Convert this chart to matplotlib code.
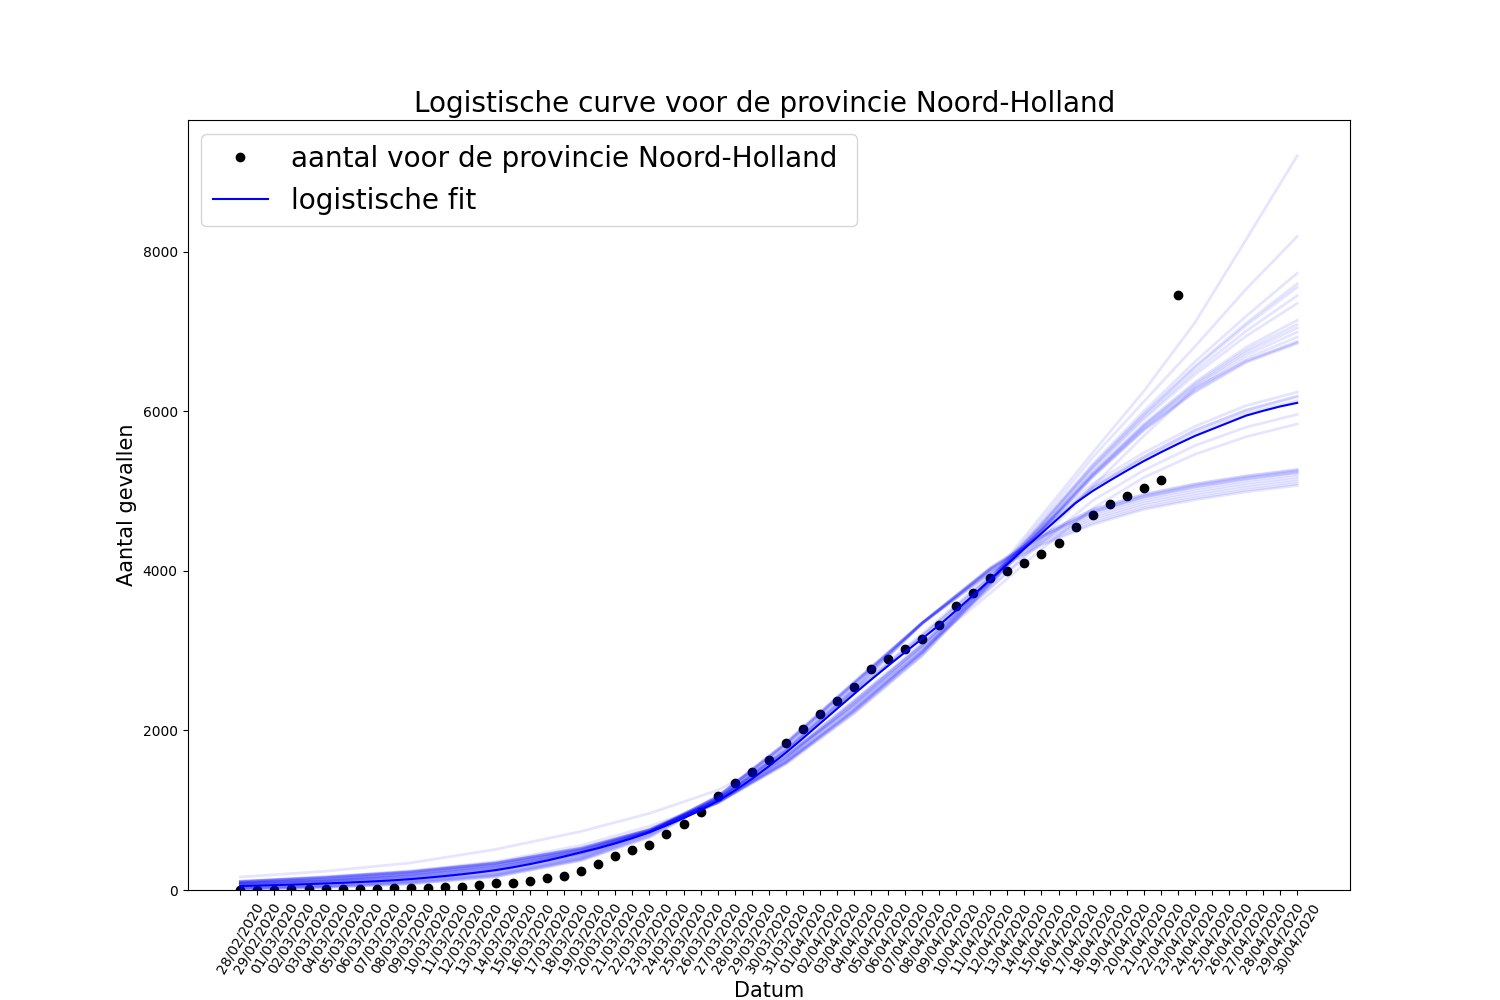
import matplotlib
matplotlib.use("Agg")
import matplotlib.pyplot as plt

title = "Logistische curve voor de provincie Noord-Holland"
x_label = "Datum"
y_label = "Aantal gevallen"
label_points = "aantal voor de provincie Noord-Holland"
label_fit = "logistische fit"

dates = ["28/02/2020", "29/02/2020",
         "01/03/2020", "02/03/2020", "03/03/2020", "04/03/2020", "05/03/2020", "06/03/2020",
         "07/03/2020", "08/03/2020", "09/03/2020", "10/03/2020", "11/03/2020", "12/03/2020",
         "13/03/2020", "14/03/2020", "15/03/2020", "16/03/2020", "17/03/2020", "18/03/2020",
         "19/03/2020", "20/03/2020", "21/03/2020", "22/03/2020", "23/03/2020", "24/03/2020",
         "25/03/2020", "26/03/2020", "27/03/2020", "28/03/2020", "29/03/2020", "30/03/2020",
         "31/03/2020", "01/04/2020", "02/04/2020", "03/04/2020", "04/04/2020", "05/04/2020",
         "06/04/2020", "07/04/2020", "08/04/2020", "09/04/2020", "10/04/2020", "11/04/2020",
         "12/04/2020", "13/04/2020", "14/04/2020", "15/04/2020", "16/04/2020", "17/04/2020",
         "18/04/2020", "19/04/2020", "20/04/2020", "21/04/2020", "22/04/2020", "23/04/2020",
         "24/04/2020", "25/04/2020", "26/04/2020", "27/04/2020", "28/04/2020", "29/04/2020",
         "30/04/2020"]

counts = [5, 5, 6, 8, 8, 12, 12, 14, 18, 28, 28, 28, 42, 42, 62, 88, 88, 112, 150, 175,
          238, 325, 421, 500, 563, 700, 822, 972, 1176, 1342, 1476, 1627, 1840, 2015, 2203,
          2370, 2542, 2767, 2892, 3018, 3143, 3320, 3560, 3720, 3908, 3996, 4096, 4209, 4347,
          4547, 4698, 4836, 4936, 5036, 5137, 7453]

main_fit = [50, 55, 61, 67, 74, 82, 90, 100, 110, 122, 137, 155, 175, 197, 222, 250, 285, 325,
            370, 420, 473, 525, 585, 650, 725, 810, 900, 1000, 1115, 1245, 1390, 1550, 1720,
            1900, 2085, 2270, 2455, 2635, 2810, 2980, 3150, 3320, 3505, 3695, 3890, 4085, 4280,
            4470, 4660, 4850, 5000, 5130, 5255, 5375, 5485, 5590, 5690, 5775, 5860, 5945, 6005,
            6060, 6105]

sample_dates = [dates[i] for i in (0, 5, 10, 15, 20, 24, 28, 32, 36, 40, 44, 47, 50, 53, 56, 59, 62)]

pale_low = [
    [10, 30, 75, 165, 370, 660, 1130, 1740, 2500, 3340, 3970, 4320, 4580, 4770, 4890, 4990, 5070],
    [12, 33, 80, 170, 375, 667, 1135, 1751, 2511, 3341, 3977, 4333, 4599, 4789, 4910, 5010, 5090],
    [15, 38, 86, 178, 383, 676, 1141, 1768, 2528, 3343, 3988, 4353, 4628, 4818, 4940, 5040, 5120],
    [18, 42, 93, 185, 390, 686, 1148, 1784, 2544, 3344, 3998, 4372, 4656, 4846, 4970, 5070, 5150],
    [21, 47, 100, 193, 398, 696, 1155, 1801, 2561, 3346, 4009, 4392, 4685, 4875, 5000, 5100, 5180],
    [24, 51, 107, 200, 405, 706, 1162, 1817, 2577, 3347, 4019, 4411, 4713, 4903, 5030, 5130, 5210],
    [26, 54, 111, 205, 410, 712, 1166, 1828, 2588, 3348, 4026, 4424, 4732, 4922, 5050, 5150, 5230],
    [30, 60, 120, 215, 420, 725, 1175, 1850, 2610, 3350, 4040, 4450, 4770, 4960, 5090, 5190, 5270],
    [60, 90, 145, 240, 430, 720, 1170, 1835, 2595, 3345, 4025, 4430, 4745, 4940, 5070, 5170, 5250],
    [70, 100, 155, 250, 440, 730, 1175, 1840, 2600, 3350, 4035, 4445, 4765, 4955, 5085, 5185, 5265],
    [80, 115, 170, 265, 450, 735, 1170, 1830, 2590, 3340, 4020, 4425, 4740, 4930, 5060, 5160, 5240],
]
pale_mid = [
    [75, 110, 175, 285, 490, 730, 1090, 1640, 2330, 3020, 3720, 4270, 4780, 5170, 5460, 5680, 5840],
    [70, 105, 170, 280, 485, 730, 1095, 1660, 2370, 3060, 3790, 4350, 4880, 5260, 5570, 5800, 5960],
    [52, 85, 140, 255, 470, 725, 1125, 1740, 2480, 3180, 3920, 4510, 5050, 5430, 5760, 6010, 6180],
    [45, 78, 132, 245, 465, 725, 1130, 1760, 2510, 3210, 3950, 4550, 5090, 5480, 5810, 6070, 6240],
    [60, 95, 150, 265, 480, 730, 1120, 1730, 2470, 3170, 3910, 4500, 5040, 5425, 5760, 6015, 6190],
    [40, 72, 125, 235, 455, 720, 1125, 1750, 2495, 3190, 3925, 4505, 5030, 5400, 5720, 5975, 6130],
]
pale_high = [
    [110, 165, 240, 355, 560, 800, 1093, 1584, 2220, 2940, 3818, 4500, 5175, 5760, 6240, 6610, 6850],
    [109, 164, 234, 344, 529, 759, 1149, 1681, 2359, 3079, 3875, 4503, 5180, 5767, 6251, 6627, 6876],
    [107, 161, 231, 341, 526, 758, 1108, 1610, 2257, 2978, 3836, 4509, 5190, 5782, 6274, 6662, 6929],
    [105, 158, 228, 338, 524, 757, 1155, 1693, 2375, 3097, 3885, 4516, 5201, 5798, 6301, 6703, 6991],
    [103, 155, 225, 335, 521, 756, 1098, 1594, 2233, 2956, 3830, 4522, 5211, 5813, 6324, 6738, 7044],
    [102, 153, 223, 333, 519, 755, 1129, 1649, 2312, 3035, 3863, 4527, 5220, 5825, 6343, 6767, 7088],
    [100, 150, 220, 330, 517, 753, 1112, 1619, 2270, 2993, 3849, 4533, 5229, 5839, 6365, 6801, 7140],
    [93, 139, 209, 319, 507, 749, 1136, 1664, 2333, 3059, 3881, 4557, 5269, 5897, 6457, 6941, 7352],
    [90, 134, 204, 314, 503, 746, 1087, 1577, 2210, 2936, 3836, 4568, 5287, 5923, 6498, 7004, 7448],
    [86, 129, 199, 309, 498, 744, 1125, 1645, 2306, 3034, 3878, 4580, 5307, 5952, 6544, 7074, 7554],
    [85, 127, 197, 307, 496, 743, 1100, 1602, 2245, 2973, 3855, 4585, 5315, 5964, 6563, 7103, 7598],
    [80, 120, 190, 300, 490, 740, 1138, 1669, 2340, 3070, 3898, 4600, 5340, 6000, 6620, 7190, 7730],
]
pale_extreme = [
    [163, 235, 340, 510, 735, 960, 1250, 1700, 2290, 2990, 3780, 4400, 5060, 5690, 6290, 6630, 6860],
    [78, 118, 185, 290, 470, 735, 1100, 1610, 2260, 2990, 3880, 4640, 5420, 6120, 6810, 7530, 8190],
    [75, 115, 180, 285, 465, 730, 1095, 1600, 2250, 2980, 3900, 4690, 5480, 6250, 7110, 8150, 9200],
]

fig, ax = plt.subplots(figsize=(15, 10), dpi=100)

ax.plot(dates, [None] * len(dates), alpha=0)  # fixes the order of all 63 date categories
points, = ax.plot(dates[:len(counts)], counts, "ko", label=label_points)
for group in (pale_low, pale_mid, pale_high, pale_extreme):
    for values in group:
        ax.plot(sample_dates, values, color="b", alpha=0.1, lw=2)
fit_line, = ax.plot(dates, main_fit, color="b", label=label_fit)

ax.set_ylim(0, 9650)
ax.set_yticks([0, 2000, 4000, 6000, 8000])
ax.tick_params(axis="x", labelrotation=60)
ax.set_title(title, fontsize=20.06, x=0.4963)
ax.set_xlabel(x_label, fontsize=15)
ax.set_ylabel(y_label, fontsize=15)
ax.legend(handles=[points, fit_line], loc="upper left", fontsize=20.07,
          bbox_to_anchor=(0, 0, 0.5879, 1), mode="expand")

fig.savefig("out.png", dpi=100)
